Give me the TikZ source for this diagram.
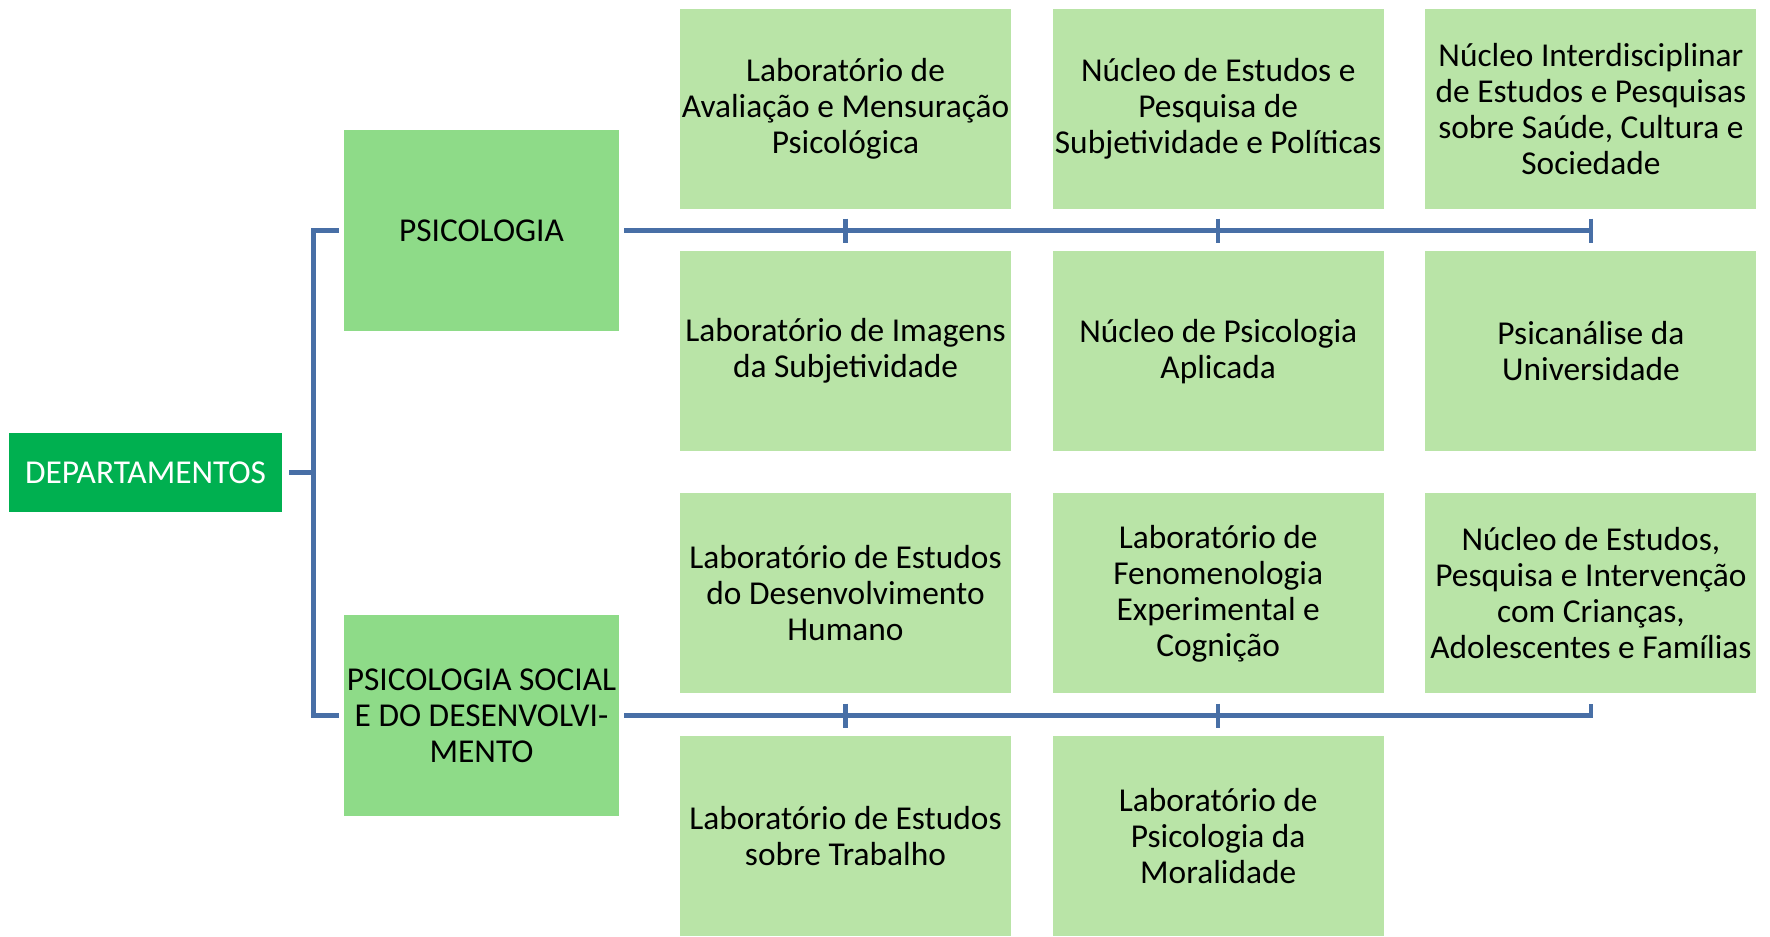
\documentclass[tikz,border=0pt]{standalone}
\usepackage{fontspec}
\setmainfont{Carlito}
\usepackage{xcolor}
\usetikzlibrary{positioning}
\definecolor{deptgreen}{RGB}{0,176,80}
\definecolor{areagreen}{RGB}{142,219,136}
\definecolor{labgreen}{RGB}{185,228,167}
\definecolor{linkblue}{RGB}{72,111,166}
\tikzset{box/.style = {inner sep=0pt, align=center,
                       font=\fontsize{19}{20.5}\selectfont}}
\tikzset{dept/.style = {box, fill=deptgreen, text=white,
                        minimum width=5.46cm, minimum height=1.58cm}}
\tikzset{area/.style = {box, fill=areagreen,
                        minimum width=5.5cm, minimum height=4.02cm}}
\tikzset{lab/.style = {box, fill=labgreen,
                       minimum width=6.62cm, minimum height=4cm}}
\tikzset{link/.style = {draw=linkblue, line width=2.5pt}}

\begin{document}
\begin{tikzpicture}[node distance=0.83cm and 0.82cm]
		\useasboundingbox (0,0) rectangle (35.4,-18.72);
		
		\node[dept] (dep) at (2.91,-9.45) {DEPARTAMENTOS};
		\node[area] (psi) at (9.63,-4.61) {PSICOLOGIA};
		\node[area] (soc) at (9.63,-14.31) {PSICOLOGIA SOCIAL\\E DO DESENVOLVI-\\MENTO};
		
		\node[lab] (a1) at (16.91,-2.18) {Laboratório de\\Avaliação e Mensuração\\Psicológica};
		\node[lab, right=of a1] (a2) {Núcleo de Estudos e\\Pesquisa de\\Subjetividade e Políticas};
		\node[lab, right=of a2] (a3) {Núcleo Interdisciplinar\\de Estudos e Pesquisas\\sobre Saúde, Cultura e\\Sociedade};
		\node[lab, below=of a1] (a4) {Laboratório de Imagens\\da Subjetividade};
		\node[lab, right=of a4] (a5) {Núcleo de Psicologia\\Aplicada};
		\node[lab, right=of a5] (a6) {Psicanálise da\\Universidade};
		
		\node[lab, below=of a4] (b1) {Laboratório de Estudos\\do Desenvolvimento\\Humano};
		\node[lab, right=of b1] (b2) {Laboratório de\\Fenomenologia\\Experimental e\\Cognição};
		\node[lab, right=of b2] (b3) {Núcleo de Estudos,\\Pesquisa e Intervenção\\com Crianças,\\Adolescentes e Famílias};
		\node[lab, below=of b1] (b4) {Laboratório de Estudos\\sobre Trabalho};
		\node[lab, right=of b4] (b5) {Laboratório de\\Psicologia da\\Moralidade};
		
		\draw[link] ([xshift=0.14cm]dep.east) -- ++(0.48,0) |- ([xshift=-0.1cm]psi.west);
		\draw[link] ([xshift=0.14cm]dep.east) -- ++(0.48,0) |- ([xshift=-0.1cm]soc.west);
		
		\draw[link] ([xshift=0.1cm]psi.east) -- (psi.east -| a3);
		\foreach \n in {a1,a2,a3}
			\draw[link] ([yshift=0.24cm]psi.east -| \n) -- ([yshift=-0.24cm]psi.east -| \n);
		
		\draw[link] ([xshift=0.1cm]soc.east) -- (soc.east -| b3) -- ([yshift=0.24cm]soc.east -| b3);
		\foreach \n in {b1,b2}
			\draw[link] ([yshift=0.24cm]soc.east -| \n) -- ([yshift=-0.24cm]soc.east -| \n);
		\end{tikzpicture}
\end{document}
